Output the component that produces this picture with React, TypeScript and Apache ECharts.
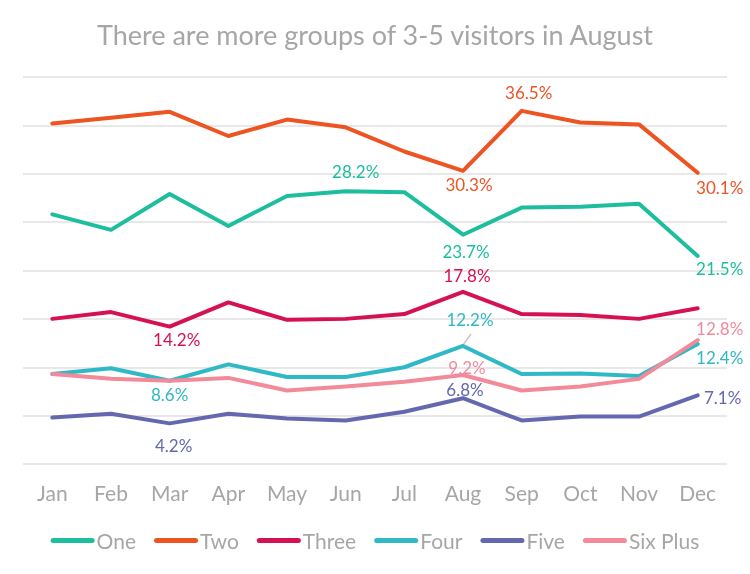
import React, { useEffect, useRef } from "react";
import * as echarts from "echarts";

const months = ["Jan", "Feb", "Mar", "Apr", "May", "Jun", "Jul", "Aug", "Sep", "Oct", "Nov", "Dec"];
const seriesNames = ["One", "Two", "Three", "Four", "Five", "Six Plus"];
const one = [25.8, 24.2, 27.9, 24.6, 27.7, 28.2, 28.1, 23.7, 26.5, 26.6, 26.9, 21.5];
const two = [35.2, 35.8, 36.4, 33.9, 35.6, 34.8, 32.3, 30.3, 36.5, 35.3, 35.1, 30.1];
const three = [15.0, 15.7, 14.2, 16.7, 14.9, 15.0, 15.5, 17.8, 15.5, 15.4, 15.0, 16.1];
const four = [9.3, 9.9, 8.6, 10.3, 9.0, 9.0, 10.0, 12.2, 9.3, 9.35, 9.1, 12.4];
const five = [4.8, 5.2, 4.2, 5.2, 4.7, 4.5, 5.4, 6.8, 4.5, 4.9, 4.9, 7.1];
const sixPlus = [9.3, 8.8, 8.6, 8.9, 7.6, 8.0, 8.5, 9.2, 7.6, 8.0, 8.8, 12.8];
const seriesValues = [one, two, three, four, five, sixPlus];

const colors = ["#1DBE9E", "#EE5322", "#D61151", "#2FB8C6", "#6368AF", "#F28A9A"];
const textGray = "#A6A6A6";
const FONT = "Lato";

// labelled points: [month index, dx, dy] relative to the point (label centre)
const labelSpecs: number[][][] = [
  [[5, 10, -20], [7, 3, 17], [11, 22, 13]],
  [[8, 7, -18], [7, 6, 14], [11, 22, 15]],
  [[7, 4, -16], [2, 7, 13]],
  [[7, 7, -26], [2, 0, 14], [11, 22, 13]],
  [[7, 2, -9], [2, 4, 22], [11, 25, 2]],
  [[7, 4, -7], [11, 22, -12]],
];

export default function App() {
  const ref = useRef<HTMLDivElement>(null);
  useEffect(() => {
    if (!ref.current) return;
    const chart = echarts.init(ref.current, undefined, { renderer: "svg" });
    const series = seriesNames.map((name, si) => {
      const specs = labelSpecs[si];
      const data = seriesValues[si].map((v, i) => {
        const spec = specs.find((s) => s[0] === i);
        if (!spec) return { value: v };
        return {
          value: v,
          label: {
            show: true,
            position: [spec[1] + 0.5, spec[2] + 0.5],
            align: "center",
            verticalAlign: "middle",
            color: colors[si],
            fontFamily: FONT,
            fontSize: 17,
            formatter: (p: any) => Number(p.value).toFixed(1) + "%",
          },
        };
      });
      return {
        name,
        type: "line",
        data,
        color: colors[si],
        symbol: "circle",
        symbolSize: 1,
        showSymbol: true,
        silent: true,
        lineStyle: { width: 4, color: colors[si], cap: "round", join: "round" },
        itemStyle: { color: colors[si] },
        label: { show: false },
        emphasis: { disabled: true },
      };
    });
    chart.setOption({
      animation: false,
      title: {
        text: "There are more groups of 3-5 visitors in August",
        left: "center",
        top: 16,
        textStyle: { color: textGray, fontFamily: FONT, fontSize: 27, fontWeight: "normal" },
      },
      grid: { left: 23, right: 23, top: 77, bottom: 110 },
      legend: {
        data: seriesNames,
        left: "center",
        top: 525,
        itemWidth: 44,
        itemHeight: 5,
        itemGap: 18,
        icon: "path://M2.5,0 H41.5 A2.5,2.5 0 0 1 41.5,5 H2.5 A2.5,2.5 0 0 1 2.5,0 Z",
        textStyle: { color: textGray, fontFamily: FONT, fontSize: 21, padding: [0, 0, 0, -3] },
        selectedMode: false,
      },
      xAxis: {
        type: "category",
        data: months,
        boundaryGap: true,
        axisLine: { show: false },
        axisTick: { show: false },
        axisLabel: { color: textGray, fontFamily: FONT, fontSize: 21, margin: 18 },
      },
      yAxis: {
        type: "value",
        min: 0,
        max: 40,
        interval: 5,
        axisLabel: { show: false },
        axisLine: { show: false },
        axisTick: { show: false },
        splitLine: { show: true, lineStyle: { color: "#E8E8E8", width: 2 } },
      },
      series,
    });
    const p = chart.convertToPixel({ xAxisIndex: 0, yAxisIndex: 0 }, [7, four[7]]) as number[];
    if (p) {
      chart.setOption({
        graphic: [
          {
            type: "line",
            shape: { x1: p[0], y1: p[1] - 1, x2: p[0] + 8, y2: p[1] - 12 },
            style: { stroke: "#C8C8C8", lineWidth: 1.5 },
            z: 1,
          },
        ],
      });
    }
    return () => chart.dispose();
  }, []);
  return <div ref={ref} style={{ position: "fixed", left: 0, top: 0, width: 750, height: 574 }} />;
}
